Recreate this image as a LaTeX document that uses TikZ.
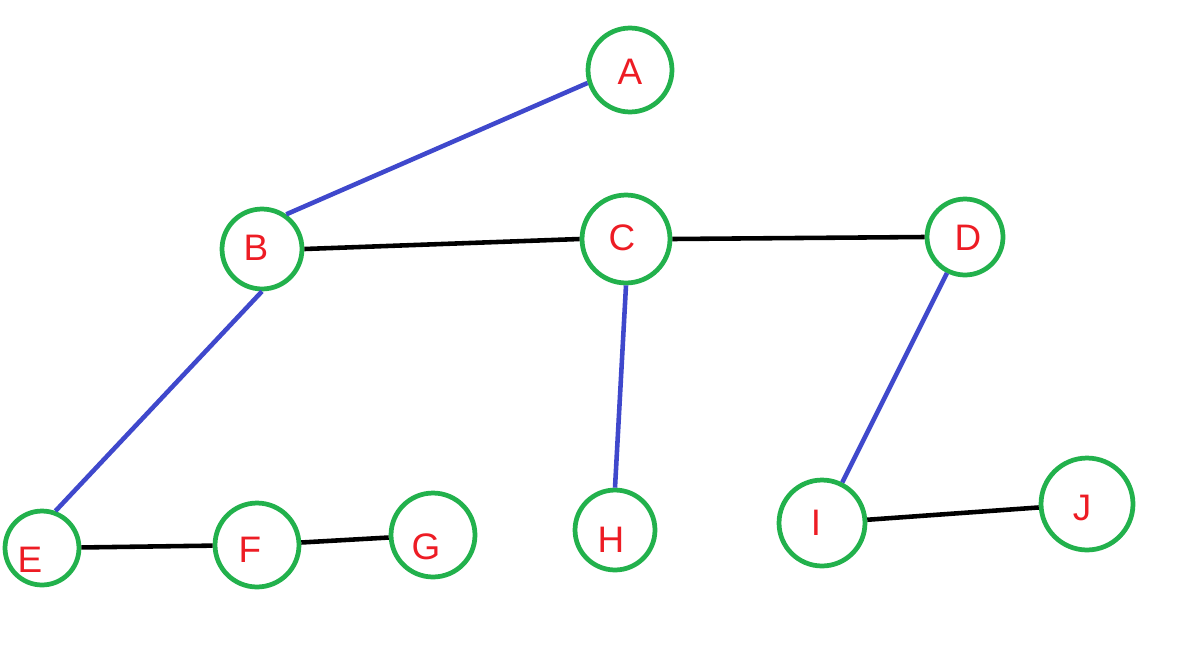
\documentclass[tikz,border=0pt]{standalone}
\usepackage{fontspec}
\setmainfont{Liberation Sans}
\definecolor{pgreen}{RGB}{34,177,76}
\definecolor{pblue}{RGB}{63,72,204}
\definecolor{pred}{RGB}{237,28,36}
\begin{document}
\begin{tikzpicture}[x=0.02cm,y=-0.02cm,
  vert/.style={circle,draw=pgreen,line width=2.7pt,minimum size=#1*0.04cm,inner sep=0pt},
  vert/.default=42,
  lab/.style={text=pred,font=\fontsize{21}{21}\selectfont,inner sep=0pt},
  bedge/.style={draw=pblue,line width=2.6pt},
  kedge/.style={draw=black,line width=2.6pt}]
\useasboundingbox (0,0) rectangle (1182,656);
\node[vert=42] (A) at (630,70) {};
\node[vert=40] (B) at (262,249) {};
\node[vert=44] (C) at (626,239) {};
\node[vert=38] (D) at (965,237) {};
\node[vert=37] (E) at (42,548) {};
\node[vert=42] (F) at (257,545) {};
\node[vert=42] (G) at (433,535) {};
\node[vert=40] (H) at (615,530) {};
\node[vert=43] (I) at (822,523) {};
\node[vert=46] (J) at (1087,504) {};
\node[lab] (lA) at (630,72) {A};
\node[lab] (lB) at (256,248) {B};
\node[lab] (lC) at (622,238) {C};
\node[lab] (lD) at (968,238) {D};
\node[lab] (lE) at (30,560) {E};
\node[lab] (lF) at (250,550) {F};
\node[lab] (lG) at (426,547) {G};
\node[lab] (lH) at (611,540) {H};
\node[lab] (lI) at (816,523) {I};
\node[lab] (lJ) at (1082,508) {J};
\draw[bedge] (A.197) -- (B.55);
\draw[kedge] (B.east) -- (C.west);
\draw[kedge] (C.east) -- (D.west);
\draw[bedge] (C.south) -- (H.north);
\draw[bedge] (B.south) -- (E.70);
\draw[bedge] (D) -- (I);
\draw[kedge] (E) -- (F);
\draw[kedge] (F) -- (G);
\draw[kedge] (I) -- (J);
\end{tikzpicture}
\end{document}
